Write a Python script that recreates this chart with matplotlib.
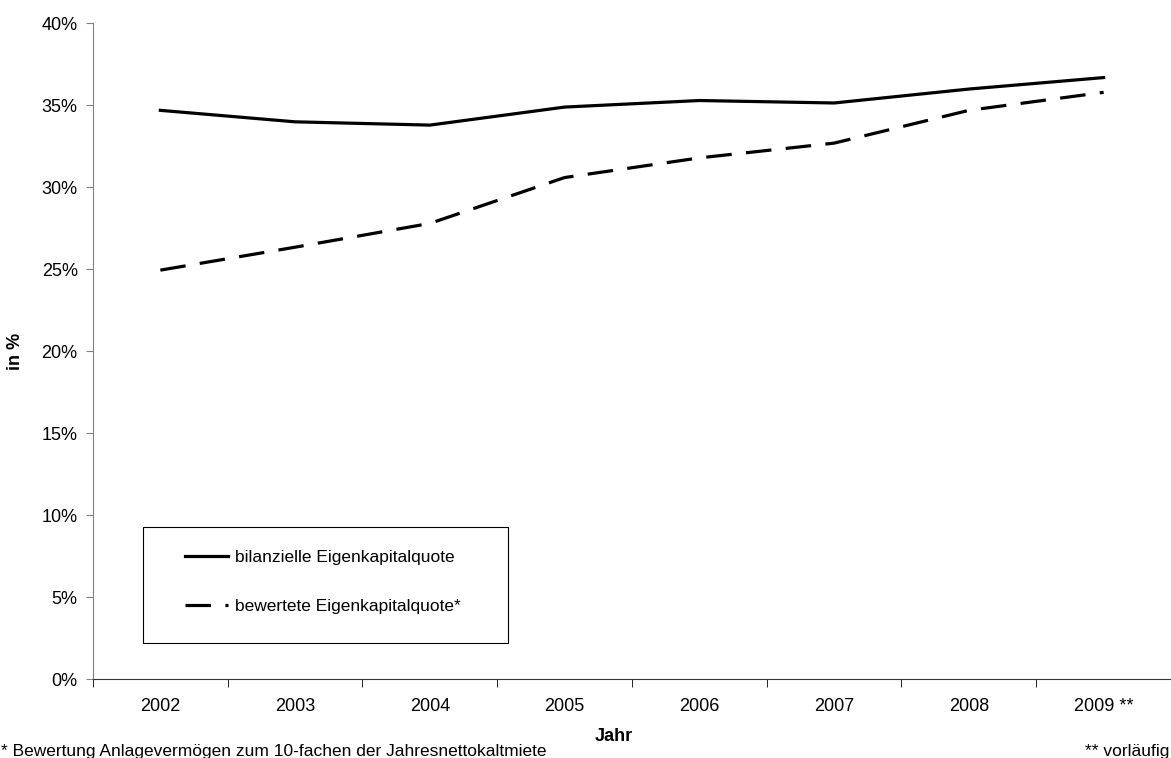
import matplotlib.pyplot as plt
import numpy as np
from matplotlib.patches import Rectangle
from matplotlib.ticker import FixedLocator, PercentFormatter

plt.rcParams["font.family"] = ["Liberation Sans", "DejaVu Sans"]

# Daten (Eigenkapitalquoten in %)
jahre = ["2002", "2003", "2004", "2005", "2006", "2007", "2008", "2009 **"]
bilanziell = [34.7, 34.0, 33.8, 34.9, 35.3, 35.15, 36.0, 36.7]
bewertet = [24.95, 26.35, 27.8, 30.6, 31.8, 32.7, 34.7, 35.8]

fig = plt.figure(figsize=(11.71, 7.58), dpi=100)
ax = fig.add_axes([0.0794, 0.1042, 0.9206, 0.8648])

x = np.arange(len(jahre))
ax.plot(x, bilanziell, color="black", lw=2.3, label="bilanzielle Eigenkapitalquote",
        solid_joinstyle="round")
ax.plot(x, bewertet, color="black", lw=2.3, dashes=(8, 4.5), dash_capstyle="butt",
        label="bewertete Eigenkapitalquote*")

# Achsen
ax.set_xlim(-0.5, len(jahre) - 0.5)
ax.set_ylim(0, 40)
ax.yaxis.set_major_locator(FixedLocator(np.arange(0, 41, 5)))
ax.yaxis.set_major_formatter(PercentFormatter(decimals=0))
ax.set_xticks(x)
ax.set_xticklabels(jahre)
ax.xaxis.set_minor_locator(FixedLocator(np.arange(-0.5, len(jahre), 1)))
ax.tick_params(axis="x", which="major", length=0, pad=14, labelsize=13)
ax.tick_params(axis="x", which="minor", length=6, color="black", direction="out")
ax.tick_params(axis="y", length=5, color="#808080", labelsize=13, pad=6)

for s in ["top", "right"]:
    ax.spines[s].set_visible(False)
ax.spines["left"].set_color("#808080")
ax.spines["bottom"].set_color("#333333")

ax.set_ylabel("in %", fontsize=13, fontweight="bold")
ax.yaxis.set_label_coords(-0.0636, 0.5)

# Legendenrahmen separat, damit die Einträge frei positioniert werden können
ax.add_patch(Rectangle((0.0464, 0.055), 0.339, 0.177, transform=ax.transAxes,
                       facecolor="white", edgecolor="black", lw=0.8, zorder=4))
leg = ax.legend(loc="upper left", bbox_to_anchor=(0.0854, 0.197),
                fontsize=12.5, frameon=False, handlelength=2.5,
                handletextpad=0.35, labelspacing=1.95,
                borderpad=0, borderaxespad=0)
leg.set_zorder(5)

# Beschriftung unten
fig.text(0.524, 0.028, "Jahr", ha="center", va="center", fontsize=13, fontweight="bold")
fig.text(0.001, 0.009, "* Bewertung Anlagevermögen zum 10-fachen der Jahresnettokaltmiete",
         ha="left", va="center", fontsize=12.5)
fig.text(0.999, 0.009, "** vorläufig", ha="right", va="center", fontsize=12.5)

fig.savefig("out.png", dpi=100)
